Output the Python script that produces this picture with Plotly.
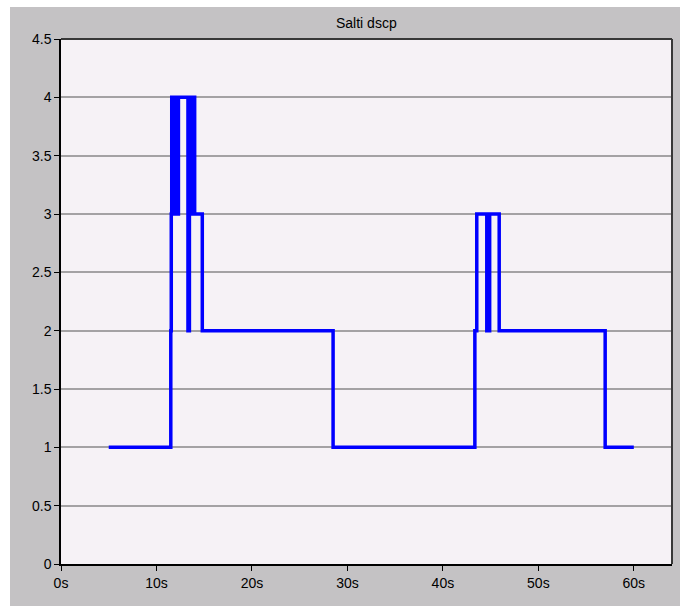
import plotly.graph_objects as go

# step data (time in seconds, value)
times = [5.0, 11.5, 11.55, 11.6, 11.7, 11.8, 11.95, 12.05, 12.2, 12.3,
         13.3, 13.45, 13.6, 13.75, 14.0, 14.8, 28.5, 43.35, 43.55, 44.6,
         44.9, 45.9, 57.0, 60.0]
values = [1, 2, 3, 4, 3, 4, 3, 4, 3, 4,
          2, 4, 3, 4, 3, 2, 1, 2, 3, 2,
          3, 2, 1, 1]

x_ticks = [0, 10, 20, 30, 40, 50, 60]
y_ticks = [0, 0.5, 1, 1.5, 2, 2.5, 3, 3.5, 4, 4.5]
title_text = "Salti dscp"

W, H = 680, 606
L, R, T, B = 61, 8, 39, 42
pw, ph = W - L - R, H - T - B

fig = go.Figure()
fig.add_trace(go.Scatter(x=times, y=values, mode="lines", line_shape="hv",
                         line=dict(color="#0000FF", width=3.5), showlegend=False))

axis_font = dict(family="Liberation Sans, Arial, sans-serif", size=14, color="#000000")

fig.update_layout(
    width=W, height=H,
    margin=dict(l=L, r=R, t=T, b=B),
    paper_bgcolor="#C4C2C4",
    plot_bgcolor="#F6F2F6",
    xaxis=dict(range=[0, 64], tickvals=x_ticks, ticktext=[f"{v}s" for v in x_ticks],
               showgrid=False, zeroline=False, showline=True, linecolor="#000000",
               linewidth=1.5, ticks="outside", ticklen=5, tickcolor="#000000",
               tickfont=axis_font, fixedrange=True),
    yaxis=dict(range=[0, 4.5], tickvals=y_ticks, ticktext=[f"{v:g}" for v in y_ticks],
               showgrid=True, gridcolor="#A4A2A4", gridwidth=1.5, zeroline=False,
               showline=True, linecolor="#000000", linewidth=1.5, ticks="outside",
               ticklen=5, tickcolor="#000000", tickfont=axis_font, fixedrange=True),
    shapes=[
        # white strips outside the grey frame (top and left)
        dict(type="rect", xref="paper", yref="paper",
             x0=-L / pw, x1=(W - L) / pw,
             y0=(T + ph - 7) / ph, y1=(T + ph) / ph,
             fillcolor="#FFFFFF", line=dict(width=0)),
        dict(type="rect", xref="paper", yref="paper",
             x0=-L / pw, x1=(10 - L) / pw,
             y0=(T + ph - H) / ph, y1=(T + ph) / ph,
             fillcolor="#FFFFFF", line=dict(width=0)),
        dict(type="line", xref="paper", yref="paper", x0=0, x1=1, y0=1, y1=1,
             line=dict(color="#383838", width=2)),
        dict(type="line", xref="paper", yref="paper", x0=1, x1=1, y0=0, y1=1,
             line=dict(color="#383838", width=2)),
    ],
    annotations=[dict(text=title_text, xref="paper", yref="paper", x=0.5, y=1,
                      yanchor="bottom", yshift=6, showarrow=False,
                      font=dict(family="Liberation Sans, Arial, sans-serif", size=14,
                                color="#000000"))],
)

fig.write_html("out.html")
